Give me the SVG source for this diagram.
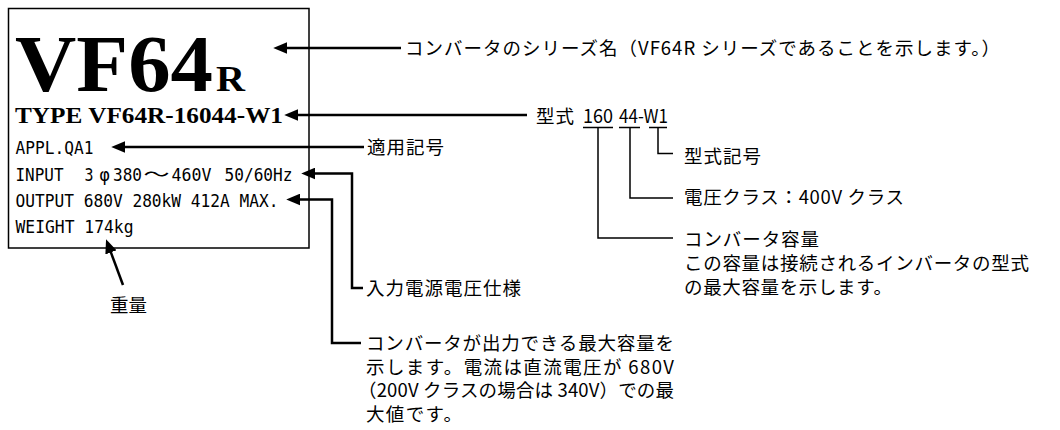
<svg xmlns="http://www.w3.org/2000/svg" width="1060" height="430" viewBox="0 0 1060 430">
<style>
.jp{font-family:"Noto Sans CJK JP","Noto Sans CJK SC",sans-serif;font-size:18.5px;fill:#000}
.mono{font-family:"DejaVu Sans Mono","Liberation Mono",monospace;font-size:17px;fill:#000}
.serif{font-family:"Liberation Serif","Times New Roman",serif;font-weight:bold;fill:#000}
.conn{fill:none;stroke:#000;stroke-width:2.5;stroke-linejoin:miter}
.tree{fill:none;stroke:#000;stroke-width:1.5}
</style>
<defs>
<marker id="ah" markerUnits="userSpaceOnUse" markerWidth="14" markerHeight="12" viewBox="0 0 13 11" refX="3" refY="5.5" orient="auto">
<path d="M0,0 L13,5.5 L0,11 z" fill="#000"/>
</marker>
</defs>
<rect width="1060" height="430" fill="#fff"/>

<g id="nameplate">
<rect x="8.5" y="8.5" width="300.5" height="239.5" fill="#fff" stroke="#000" stroke-width="1.5"/>
<text class="serif" x="15" y="91" font-size="80" textLength="198" lengthAdjust="spacingAndGlyphs">VF64</text>
<text class="serif" x="216" y="91" font-size="36" textLength="29" lengthAdjust="spacingAndGlyphs">R</text>
<text class="serif" x="15" y="123" font-size="24" textLength="268" lengthAdjust="spacingAndGlyphs">TYPE VF64R-16044-W1</text>
<text class="mono" x="15.5" y="154" textLength="78" lengthAdjust="spacingAndGlyphs">APPL.QA1</text>
<text class="mono" x="15.5" y="180.5" textLength="48" lengthAdjust="spacingAndGlyphs">INPUT</text>
<text class="mono" x="84.5" y="180.5" textLength="9" lengthAdjust="spacingAndGlyphs">3</text>
<text class="mono" x="104.5" y="180.5" text-anchor="middle">φ</text>
<text class="mono" x="113" y="180.5" textLength="29" lengthAdjust="spacingAndGlyphs">380</text>
<text class="jp" x="156.5" y="180.5" text-anchor="middle" textLength="26" lengthAdjust="spacingAndGlyphs">～</text>
<text class="mono" x="171.5" y="180.5" textLength="40" lengthAdjust="spacingAndGlyphs">460V</text>
<text class="mono" x="224.5" y="180.5" textLength="68" lengthAdjust="spacingAndGlyphs">50/60Hz</text>
<text class="mono" x="15.5" y="207" textLength="263" lengthAdjust="spacingAndGlyphs">OUTPUT 680V 280kW 412A MAX.</text>
<text class="mono" x="15.5" y="233" textLength="118" lengthAdjust="spacingAndGlyphs">WEIGHT 174kg</text>
</g>

<g id="connectors">
<path class="conn" d="M401,48 H284" marker-end="url(#ah)"/>
<path class="conn" d="M527,115 H295" marker-end="url(#ah)"/>
<path class="conn" d="M364,147 H122" marker-end="url(#ah)"/>
<path class="conn" d="M363,288 H352 V173.5 H312" marker-end="url(#ah)"/>
<path class="conn" d="M361,343 H332 V199.5 H297" marker-end="url(#ah)"/>
<path class="conn" d="M123,285 L109.8,249.4" marker-end="url(#ah)"/>
<path class="tree" d="M583,127.5 H613 M619,127.5 H640 M649,127.5 H667"/>
<path class="tree" d="M598,127.5 V238 H673"/>
<path class="tree" d="M630,127.5 V198 H673"/>
<path class="tree" d="M658,127.5 V153.5 H673"/>
</g>

<g id="label-series">
<text class="jp" x="405" y="55" textLength="595" lengthAdjust="spacing">コンバータのシリーズ名（VF64R シリーズであることを示します。）</text>
</g>
<g id="label-type">
<text class="jp" x="536" y="122.5" textLength="38" lengthAdjust="spacing">型式</text>
<text class="jp" x="583" y="122.5" textLength="30" lengthAdjust="spacingAndGlyphs">160</text>
<text class="jp" x="619" y="122.5" textLength="49" lengthAdjust="spacingAndGlyphs">44-W1</text>
</g>
<g id="label-appl">
<text class="jp" x="367" y="154" textLength="77" lengthAdjust="spacing">適用記号</text>
</g>
<g id="label-typecode">
<text class="jp" x="684" y="162.5" textLength="77" lengthAdjust="spacing">型式記号</text>
</g>
<g id="label-voltage">
<text class="jp" x="684" y="204" textLength="220" lengthAdjust="spacing">電圧クラス：400V クラス</text>
</g>
<g id="label-capacity">
<text class="jp" x="684" y="245.5" textLength="135" lengthAdjust="spacing">コンバータ容量</text>
<text class="jp" x="684" y="269.5" textLength="345" lengthAdjust="spacing">この容量は接続されるインバータの型式</text>
<text class="jp" x="684" y="293.5" textLength="208" lengthAdjust="spacing">の最大容量を示します。</text>
</g>
<g id="label-input">
<text class="jp" x="366" y="295" textLength="155" lengthAdjust="spacing">入力電源電圧仕様</text>
</g>
<g id="label-output">
<text class="jp" x="366" y="350" textLength="308" lengthAdjust="spacing">コンバータが出力できる最大容量を</text>
<text class="jp" x="366" y="373.5" textLength="308" lengthAdjust="spacing">示します。電流は直流電圧が 680V</text>
<text class="jp" x="358" y="397" textLength="316" lengthAdjust="spacing">（200V クラスの場合は 340V）での最</text>
<text class="jp" x="366" y="420.5" textLength="96" lengthAdjust="spacing">大値です。</text>
</g>
<g id="label-weight">
<text class="jp" x="110" y="312" textLength="37" lengthAdjust="spacing">重量</text>
</g>
</svg>
